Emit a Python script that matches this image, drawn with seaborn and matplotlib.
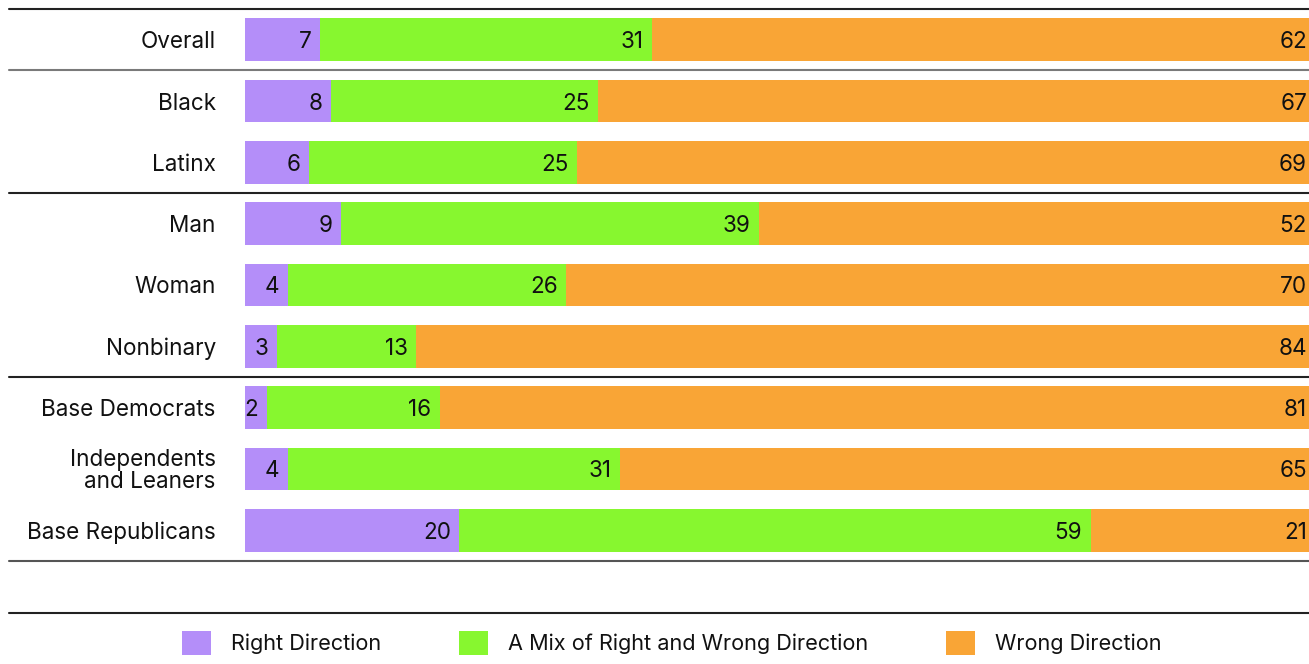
import numpy as np
import pandas as pd
import matplotlib
matplotlib.use('Agg')
import matplotlib.pyplot as plt
from matplotlib.patches import Patch
from matplotlib.lines import Line2D
import seaborn as sns

##################################################################
groups = ['Overall', 'Black', 'Latinx', 'Man', 'Woman', 'Nonbinary',
          'Base Democrats', 'Independents\nand Leaners', 'Base Republicans']
right_dir = [7, 8, 6, 9, 4, 3, 2, 4, 20]
mix_dir = [31, 25, 25, 39, 26, 13, 16, 31, 59]
wrong_dir = [62, 67, 69, 52, 70, 84, 81, 65, 21]
series = ['Right Direction', 'A Mix of Right and Wrong Direction', 'Wrong Direction']
colors = ['#B48EF9', '#87F72F', '#F9A536']
##################################################################
sns.set_theme(style='white')
plt.rcParams['font.family'] = ['Inter', 'DejaVu Sans']
fz = 16.2

df = pd.DataFrame({'group': groups, 'right': right_dir, 'mix': mix_dir, 'wrong': wrong_dir})
vals = df[['right', 'mix', 'wrong']].to_numpy(dtype=float)
totals = vals.sum(axis=1)
cum = np.cumsum(vals, axis=1) / totals[:, None] * 100

fig = plt.figure(figsize=(13.09, 6.64), dpi=100)
ax = fig.add_axes([245 / 1309, 1 - 561 / 664, 1 - 245 / 1309, (561 - 9) / 664])

# stacked bars: draw the cumulative totals from widest to narrowest
for k in [2, 1, 0]:
    d = pd.DataFrame({'group': groups, 'x': cum[:, k]})
    sns.barplot(data=d, x='x', y='group', order=groups, color=colors[k],
                saturation=1, width=0.7, ax=ax, orient='h', linewidth=0, edgecolor='none')

for i in range(len(groups)):
    for k in range(3):
        ax.annotate('%d' % vals[i, k], xy=(cum[i, k], i), xytext=(-6, 0),
                    textcoords='offset points', ha='right', va='center_baseline',
                    fontsize=fz, color='#111111', annotation_clip=False)

# the bars run slightly past the right edge, as in the original crop
ax.set_xlim(0, 99.4)
ax.set_ylim(8.5, -0.5)
ax.set_xlabel('')
ax.set_ylabel('')
ax.set_xticks([])
ax.tick_params(axis='y', length=0, pad=21, labelsize=fz, labelcolor='#111111')
for lab in ax.get_yticklabels():
    lab.set_linespacing(0.95)
for s in ax.spines.values():
    s.set_visible(False)

# separators between the groups of rows
trans = ax.get_yaxis_transform()
x0 = (9 - 245) / 1064
for yv, c in [(-0.5, '#222222'), (0.5, '#7a7a7a'), (2.5, '#222222'),
              (5.5, '#222222'), (8.5, '#555555')]:
    ax.plot([x0, 1], [yv, yv], transform=trans, color=c, lw=1.5, clip_on=False)

fig.add_artist(Line2D([9 / 1309, 1], [1 - 613 / 664] * 2, color='#222222', lw=1.5))

handles = [Patch(facecolor=c, edgecolor='none') for c in colors]
fig.legend(handles, series, loc='center', bbox_to_anchor=(0.513, 1 - 643 / 664), ncol=3,
           frameon=False, fontsize=15.6, handlelength=1.35, handleheight=1.35,
           handletextpad=0.9, columnspacing=3.6, labelcolor='#111111')

plt.savefig('out.png', dpi=100)
